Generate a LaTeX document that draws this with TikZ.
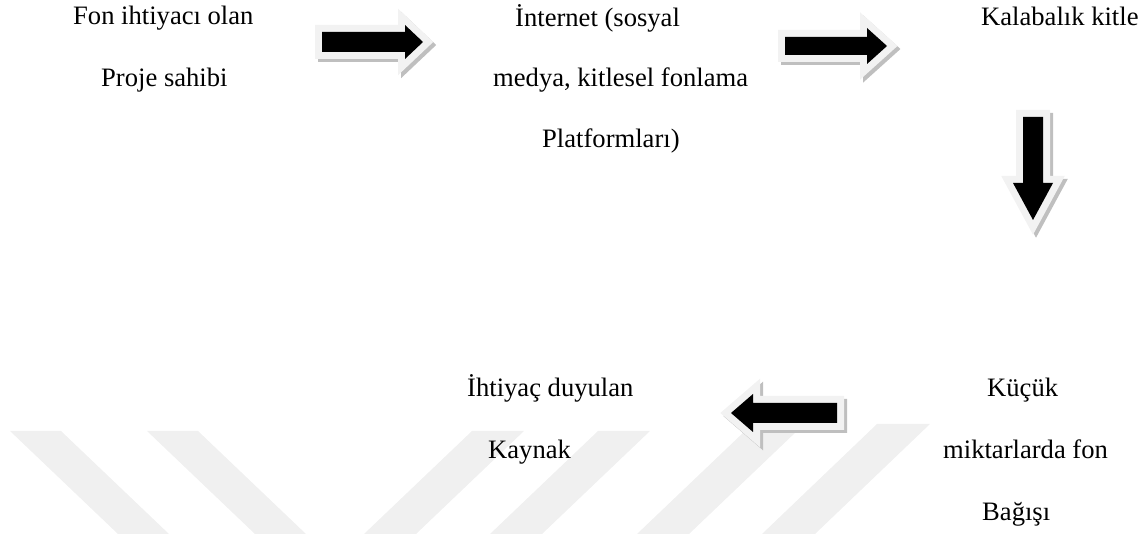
\documentclass[tikz,border=0pt]{standalone}
\usepackage{fontspec}
\setmainfont{Liberation Serif}
\begin{document}
\begin{tikzpicture}[x=1pt,y=-1pt,
  lbl/.style={inner sep=0pt, anchor=base west, font=\fontsize{26.6}{32}\selectfont},
  stripe/.style={fill=black!6, draw=none},
  rimshadow/.style={fill=black!25, draw=black!25, line width=14pt, line join=miter, miter limit=20},
  rim/.style={fill=black!5, draw=black!5, line width=14pt, line join=miter, miter limit=20},
  core/.style={fill=black, draw=none},
  % block arrow pointing along local +x, tip at the origin
  % args: head length, head half-height, shaft half-height, total length, shadow dx, shadow dy
  pics/blockarrow/.style n args={6}{code={
    \path[rimshadow, shift={(#5,#6)}] (0,0) -- (-#1,-#2) -- (-#1,-#3) -- (-#4,-#3)
       -- (-#4,#3) -- (-#1,#3) -- (-#1,#2) -- cycle;
    \path[rim] (0,0) -- (-#1,-#2) -- (-#1,-#3) -- (-#4,-#3)
       -- (-#4,#3) -- (-#1,#3) -- (-#1,#2) -- cycle;
    \path[core] (0,0) -- (-#1,-#2) -- (-#1,-#3) -- (-#4,-#3)
       -- (-#4,#3) -- (-#1,#3) -- (-#1,#2) -- cycle;
  }}]

\useasboundingbox (0,0) rectangle (1141,534);
\clip (0,0) rectangle (1141,534);

% light background stripes
\fill[stripe] (10,431) -- (61,431) -- (169,534) -- (118,534) -- cycle;
\fill[stripe] (147,431) -- (198,431) -- (306,534) -- (255,534) -- cycle;
\fill[stripe] (472,431) -- (524,431) -- (416,534) -- (364,534) -- cycle;
\fill[stripe] (598,431) -- (650,431) -- (542,534) -- (490,534) -- cycle;
\fill[stripe] (745,431) -- (797,431) -- (689,534) -- (637,534) -- cycle;
\fill[stripe] (877,424) -- (930,424) -- (815,534) -- (762,534) -- cycle;

% flow arrows
\pic (arr1) at (423,42) {blockarrow={18}{17}{10}{101}{3}{3}};
\pic (arr2) at (887,46) {blockarrow={20}{18}{9}{102}{3}{3}};
\pic[rotate=-90] (arr3) at (1033,220) {blockarrow={37}{20}{10}{103}{3}{-3}};
\pic[rotate=180] (arr4) at (731,413) {blockarrow={22}{19}{10}{106}{-3}{-3}};

% texts
\node[lbl] (fon1) at (73,25) {Fon ihtiyacı olan};
\node[lbl] (fon2) at (101,87) {Proje sahibi};
\node[lbl] (net1) at (515,27) {İnternet (sosyal};
\node[lbl] (net2) at (493,87) {medya, kitlesel fonlama};
\node[lbl] (net3) at (542,148) {Platformları)};
\node[lbl] (crowd) at (981,26) {Kalabalık kitle};
\node[lbl] (don1) at (987,397) {Küçük};
\node[lbl] (don2) at (943,459) {miktarlarda fon};
\node[lbl] (don3) at (982,520) {Bağışı};
\node[lbl] (res1) at (467,397) {İhtiyaç duyulan};
\node[lbl] (res2) at (488,459) {Kaynak};
\end{tikzpicture}
\end{document}
